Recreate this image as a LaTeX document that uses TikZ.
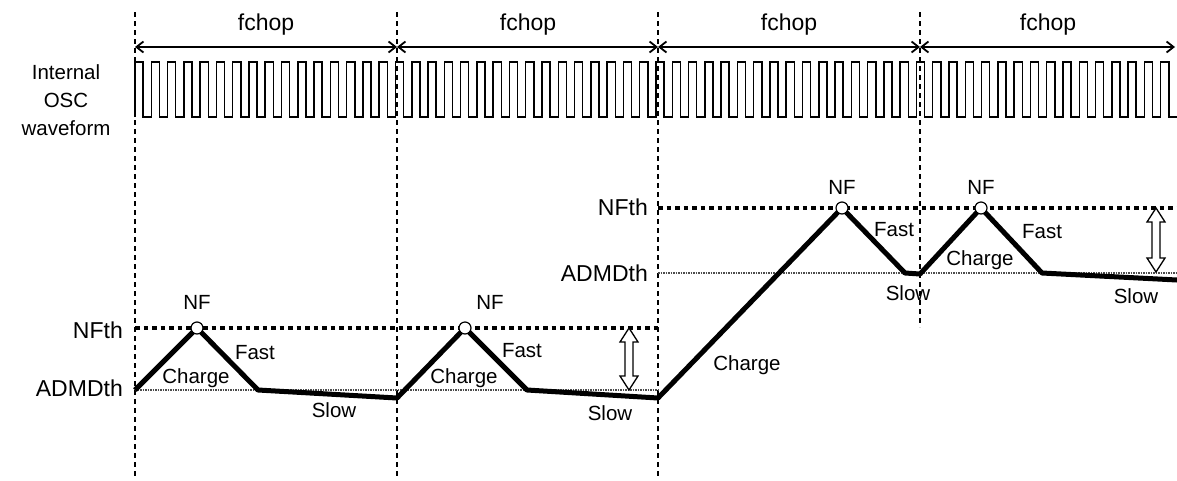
\documentclass[tikz,border=0pt]{standalone}
\usepackage{fontspec}
\setmainfont{Liberation Sans}
\usetikzlibrary{arrows.meta}

% open double arrow between two threshold levels: x, top y, bottom y
\newcommand\gaparrow[3]{%
  \draw[line width=1.3pt, fill=white, line join=miter]
    (#1-4,#2+14) -- (#1-9,#2+14) -- (#1,#2) -- (#1+9,#2+14) -- (#1+4,#2+14)
    -- (#1+4,#3-14) -- (#1+9,#3-14) -- (#1,#3) -- (#1-9,#3-14) -- (#1-4,#3-14) -- cycle;}

\begin{document}
\begin{tikzpicture}[x=1pt,y=-1pt,
    lbl/.style={inner sep=0pt, font=\fontsize{20.5}{24}\selectfont},
    lvl/.style={inner sep=0pt, anchor=east, font=\fontsize{23}{27}\selectfont},
    chopline/.style={line width=1.2pt, dash pattern=on 5pt off 4pt},
    chopspan/.style={line width=1.8pt, {Straight Barb[length=7pt,width=11pt]}-{Straight Barb[length=7pt,width=11pt]}},
    osc/.style={line width=1.5pt},
    nfline/.style={line width=3.5pt, dash pattern=on 4.5pt off 4pt},
    admdline/.style={line width=1.5pt, densely dotted, black!70},
    sig/.style={line width=5pt, line join=round},
    peak/.style={circle, draw, fill=white, line width=1.2pt, minimum size=12pt, inner sep=0pt}]

    \useasboundingbox (0,0) rectangle (1177,480);

    % chopping periods
    \coordinate (c1t) at (135,12); \coordinate (c1b) at (135,478);
    \coordinate (c2t) at (397,12); \coordinate (c2b) at (397,478);
    \coordinate (c3t) at (658,12); \coordinate (c3b) at (658,478);
    \coordinate (c4t) at (920,12); \coordinate (c4b) at (920,327);
    \foreach \i in {1,...,4}
        \draw[chopline] (c\i t) -- (c\i b);

    \coordinate (a1) at (135,47);
    \coordinate (a2) at (397,47);
    \coordinate (a3) at (658,47);
    \coordinate (a4) at (920,47);
    \coordinate (a5) at (1175,47);
    \foreach \i/\j in {1/2,2/3,3/4,4/5}
        \draw[chopspan] (a\i) -- (a\j);
    \node[lvl, anchor=center] (f1) at (266,25) {fchop};
    \node[lvl, anchor=center] (f2) at (528,25) {fchop};
    \node[lvl, anchor=center] (f3) at (789,25) {fchop};
    \node[lvl, anchor=center] (f4) at (1048,25) {fchop};

    % internal oscillator
    \node[lbl] (osc1) at (66,72) {Internal};
    \node[lbl] (osc2) at (66,100) {OSC};
    \node[lbl] (osc3) at (66,128) {waveform};
    \draw[osc] (135,117)
        \foreach \i in {1,...,64} { -- ++(0,-55) -- ++(8.14,0) -- ++(0,55) -- ++(8.14,0) };

    % threshold levels
    \draw[nfline] (135,328) -- (658,328);
    \draw[admdline] (135,390) -- (658,390);
    \draw[nfline] (658,208) -- (1177,208);
    \draw[admdline] (658,273) -- (1177,273);
    \node[lvl] (nfth1) at (123,330) {NFth};
    \node[lvl] (admd1) at (123,388) {ADMDth};
    \node[lvl] (nfth2) at (648,207) {NFth};
    \node[lvl] (admd2) at (648,273) {ADMDth};

    % comparator signal
    \coordinate (s0) at (135,390);
    \coordinate (k1) at (197,328);
    \coordinate (s1) at (258,390);
    \coordinate (s2) at (397,398);
    \coordinate (k2) at (465,328);
    \coordinate (s3) at (527,390);
    \coordinate (s4) at (658,398);
    \coordinate (k3) at (842,208);
    \coordinate (s5) at (905,273);
    \coordinate (s6) at (920,274);
    \coordinate (k4) at (981,208);
    \coordinate (s7) at (1042,273);
    \coordinate (s8) at (1177,280);
    \draw[sig] (s0) -- (k1) -- (s1) -- (s2) -- (k2) -- (s3) -- (s4)
        -- (k3) -- (s5) -- (s6) -- (k4) -- (s7) -- (s8);
    \foreach \i in {1,...,4}
        \node[peak] (nf\i) at (k\i) {};

    \gaparrow{629}{328}{390}
    \gaparrow{1156}{208}{272}

    % labels
    \node[lbl] (n1) at (197,302) {NF};
    \node[lbl] (n2) at (490,302) {NF};
    \node[lbl] (n3) at (842,187) {NF};
    \node[lbl] (n4) at (981,187) {NF};
    \node[lbl] (ch1) at (196,378) {Charge};
    \node[lbl] (ch2) at (464,378) {Charge};
    \node[lbl] (ch3) at (747,365) {Charge};
    \node[lbl] (ch4) at (980,260) {Charge};
    \node[lbl] (fa1) at (255,353) {Fast};
    \node[lbl] (fa2) at (522,351) {Fast};
    \node[lbl] (fa3) at (894,230) {Fast};
    \node[lbl] (fa4) at (1042,232) {Fast};
    \node[lbl] (sl1) at (334,410) {Slow};
    \node[lbl] (sl2) at (610,413) {Slow};
    \node[lbl] (sl3) at (908,293) {Slow};
    \node[lbl] (sl4) at (1136,296) {Slow};

\end{tikzpicture}
\end{document}
